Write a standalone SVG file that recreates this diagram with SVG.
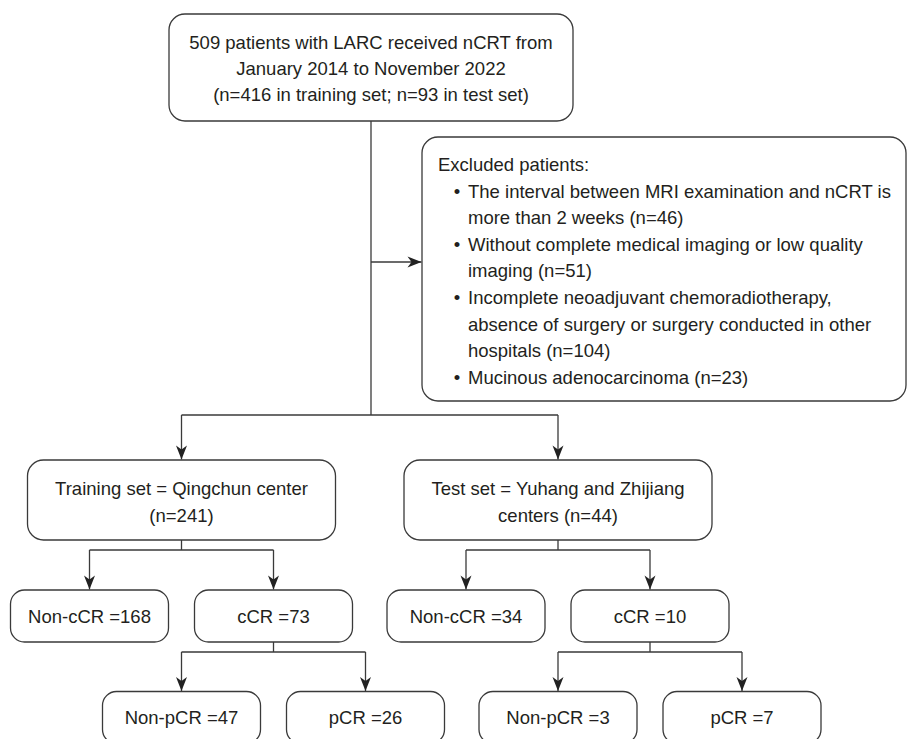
<svg xmlns="http://www.w3.org/2000/svg" width="908" height="739" viewBox="0 0 908 739">
<style>
.box{fill:#fff;stroke:#3a3a3a;stroke-width:1.3}
.t{font-family:"Liberation Sans",Arial,Helvetica,sans-serif;font-size:18.5px;fill:#231f20}
.c{text-anchor:middle}
.ln{fill:none;stroke:#3a3a3a;stroke-width:1.3}
</style>
<defs>
<marker id="ah" markerUnits="userSpaceOnUse" viewBox="-15 -7 16 14" markerWidth="16" markerHeight="14" refX="0" refY="0" orient="auto">
<path d="M0,0 L-14,-5.5 L-10,0 L-14,5.5 Z" fill="#222"/>
</marker>
</defs>
<rect width="908" height="739" fill="#fff"/>
<g id="connectors">
<path class="ln" d="M371,121 V415"/>
<path class="ln" d="M371,262 H421.5" marker-end="url(#ah)"/>
<path class="ln" d="M181.5,415 H558"/>
<path class="ln" d="M181.5,415 V459.5" marker-end="url(#ah)"/>
<path class="ln" d="M558,415 V459.5" marker-end="url(#ah)"/>
<path class="ln" d="M181.5,540 V550 M89.5,550 H273.5"/>
<path class="ln" d="M89.5,550 V589.5" marker-end="url(#ah)"/>
<path class="ln" d="M273.5,550 V589.5" marker-end="url(#ah)"/>
<path class="ln" d="M273.5,642 V652 M181.5,652 H365.5"/>
<path class="ln" d="M181.5,652 V691" marker-end="url(#ah)"/>
<path class="ln" d="M365.5,652 V691" marker-end="url(#ah)"/>
<path class="ln" d="M558,540 V550 M466,550 H650"/>
<path class="ln" d="M466,550 V589.5" marker-end="url(#ah)"/>
<path class="ln" d="M650,550 V589.5" marker-end="url(#ah)"/>
<path class="ln" d="M650,642 V652 M558,652 H742"/>
<path class="ln" d="M558,652 V691" marker-end="url(#ah)"/>
<path class="ln" d="M742,652 V691" marker-end="url(#ah)"/>
</g>
<g id="top">
<rect class="box" x="169" y="14" width="404" height="107" rx="16"/>
<text class="t c" x="371" y="49">509 patients with LARC received nCRT from</text>
<text class="t c" x="371" y="75">January 2014 to November 2022</text>
<text class="t c" x="371" y="101">(n=416 in training set; n=93 in test set)</text>
</g>
<g id="excluded">
<rect class="box" x="422" y="137" width="484" height="264" rx="16"/>
<text class="t" x="438" y="171">Excluded patients:</text>
<text class="t c" x="457" y="197.6">•</text>
<text class="t" x="468" y="197.6">The interval between MRI examination and nCRT is</text>
<text class="t" x="468" y="224.2">more than 2 weeks (n=46)</text>
<text class="t c" x="457" y="250.8">•</text>
<text class="t" x="468" y="250.8">Without complete medical imaging or low quality</text>
<text class="t" x="468" y="277.4">imaging (n=51)</text>
<text class="t c" x="457" y="304">•</text>
<text class="t" x="468" y="304">Incomplete neoadjuvant chemoradiotherapy,</text>
<text class="t" x="468" y="330.6">absence of surgery or surgery conducted in other</text>
<text class="t" x="468" y="357.2">hospitals (n=104)</text>
<text class="t c" x="457" y="383.8">•</text>
<text class="t" x="468" y="383.8">Mucinous adenocarcinoma (n=23)</text>
</g>
<g id="training">
<rect class="box" x="27.5" y="460" width="308" height="80" rx="16"/>
<text class="t c" x="181.5" y="495">Training set = Qingchun center</text>
<text class="t c" x="181.5" y="521.5">(n=241)</text>
</g>
<g id="test">
<rect class="box" x="404" y="460" width="308" height="80" rx="16"/>
<text class="t c" x="558" y="495">Test set = Yuhang and Zhijiang</text>
<text class="t c" x="558" y="521.5">centers (n=44)</text>
</g>
<g id="noncCR168">
<rect class="box" x="10.5" y="590" width="158" height="52" rx="14"/>
<text class="t c" x="89.5" y="622.5">Non-cCR =168</text>
</g>
<g id="cCR73">
<rect class="box" x="194.5" y="590" width="158" height="52" rx="14"/>
<text class="t c" x="273.5" y="622.5">cCR =73</text>
</g>
<g id="nonpCR47">
<rect class="box" x="102.5" y="691.5" width="158" height="52" rx="14"/>
<text class="t c" x="181.5" y="724">Non-pCR =47</text>
</g>
<g id="pCR26">
<rect class="box" x="286.5" y="691.5" width="158" height="52" rx="14"/>
<text class="t c" x="365.5" y="724">pCR =26</text>
</g>
<g id="noncCR34">
<rect class="box" x="387" y="590" width="158" height="52" rx="14"/>
<text class="t c" x="466" y="622.5">Non-cCR =34</text>
</g>
<g id="cCR10">
<rect class="box" x="571" y="590" width="158" height="52" rx="14"/>
<text class="t c" x="650" y="622.5">cCR =10</text>
</g>
<g id="nonpCR3">
<rect class="box" x="479" y="691.5" width="158" height="52" rx="14"/>
<text class="t c" x="558" y="724">Non-pCR =3</text>
</g>
<g id="pCR7">
<rect class="box" x="663" y="691.5" width="158" height="52" rx="14"/>
<text class="t c" x="742" y="724">pCR =7</text>
</g>
</svg>
